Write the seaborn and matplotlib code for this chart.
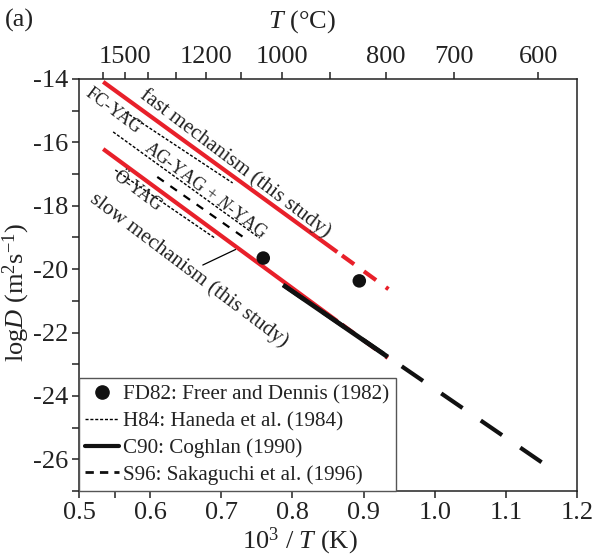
import numpy as np
import pandas as pd
import matplotlib
matplotlib.use("Agg")
import matplotlib.pyplot as plt
from matplotlib.lines import Line2D
from matplotlib.ticker import FixedLocator
import seaborn as sns

# ---------------- data ----------------
fast_x = [0.534, 0.863]
fast_y = [-14.09, -19.46]
fast_ext_x = [0.863, 0.935]
fast_ext_y = [-19.46, -20.63]

slow_x = [0.534, 0.863]
slow_y = [-16.21, -21.64]
slow_ext_x = [0.863, 0.934]
slow_ext_y = [-21.64, -22.80]

c90_x = [0.787, 0.934]
c90_y = [-20.50, -22.77]

s96_x = [0.787, 1.152]
s96_y = [-20.50, -26.12]

fd82_x = [0.759, 0.894]
fd82_y = [-19.65, -20.37]

h84_fc_x = [0.565, 0.716]
h84_fc_y = [-15.04, -17.28]
h84_agn_x = [0.548, 0.754]
h84_agn_y = [-15.67, -19.02]
h84_o_x = [0.551, 0.691]
h84_o_y = [-16.87, -19.02]

s96_agn_x = [0.610, 0.731]
s96_agn_y = [-17.09, -18.99]

leader_x = [0.674, 0.720]
leader_y = [-19.87, -19.38]

x_ticks = [0.5, 0.6, 0.7, 0.8, 0.9, 1.0, 1.1, 1.2]
x_minor = [0.55]
y_ticks = [-14, -16, -18, -20, -22, -24, -26]
y_minor = [-15, -17, -19, -21, -23, -25, -27]
t_major = [1500, 1200, 1000, 800, 700, 600]
t_minor = [1600, 1400, 1300, 1100, 900]

legend_labels = ["FD82: Freer and Dennis (1982)", "H84: Haneda et al. (1984)",
                 "C90: Coghlan (1990)", "S96: Sakaguchi et al. (1996)"]

# ---------------- style ----------------
sns.set_theme(style="ticks")
plt.rcParams["font.family"] = ["Liberation Serif", "DejaVu Serif"]
plt.rcParams["mathtext.fontset"] = "custom"
plt.rcParams["mathtext.rm"] = "Liberation Serif"
plt.rcParams["mathtext.it"] = "Liberation Serif:italic"
plt.rcParams["axes.unicode_minus"] = False

RED = "#e8202a"
INK = "#222222"
TICK_FS = 19
ANN_FS = 15.2
YAG_FS = 13

fig = plt.figure(figsize=(6.02, 5.59), dpi=100)
ax = fig.add_axes([79 / 602, 1 - 491 / 559, 498 / 602, 412 / 559])

def line(x, y, **kw):
    sns.lineplot(x=x, y=y, ax=ax, sort=False, estimator=None, legend=False, **kw)

# H84 thin dotted lines
for xs, ys in [(h84_fc_x, h84_fc_y), (h84_agn_x, h84_agn_y), (h84_o_x, h84_o_y)]:
    line(xs, ys, color="black", linewidth=1.0, linestyle=(0, (2.2, 1.3)))
# S96 medium dashed (AG-YAG + N-YAG)
line(s96_agn_x, s96_agn_y, color="black", linewidth=1.6, linestyle=(0, (3.6, 3.6)))

# red lines (this study)
line(fast_x, fast_y, color=RED, linewidth=3.0, solid_capstyle="butt")
line(fast_ext_x, fast_ext_y, color=RED, linewidth=3.0, linestyle=(5.1, (3.6, 2.9)))
line(slow_x, slow_y, color=RED, linewidth=3.0, solid_capstyle="butt")
line(slow_ext_x, slow_ext_y, color=RED, linewidth=3.0, linestyle=(5.1, (3.6, 2.9)))

# S96 thick dashed, C90 thick solid
line(s96_x, s96_y, color="#111111", linewidth=3.0, linestyle=(0, (6.2, 5.3)))
line(c90_x, c90_y, color="#111111", linewidth=3.4, solid_capstyle="butt")

# FD82 points
sns.scatterplot(x=fd82_x, y=fd82_y, ax=ax, color="#111111", s=95, edgecolor="none",
                legend=False, zorder=5)

# leader line
line(leader_x, leader_y, color="black", linewidth=0.9)

# annotations
ann = dict(rotation=-37, ha="center", va="center", rotation_mode="anchor", color=INK)
ax.text(0.7193, -16.65, "fast mechanism (this study)", fontsize=ANN_FS, **ann)
ax.text(0.655, -20.03, "slow mechanism (this study)", fontsize=ANN_FS, **ann)
ax.text(0.548, -15.01, "FC-YAG", fontsize=YAG_FS, **ann)
ax.text(0.677, -17.53, "AG-YAG + $\\mathit{N}$-YAG", fontsize=YAG_FS, **ann)
ax.text(0.5815, -17.53, "Ö-YAG", fontsize=YAG_FS, **ann)

# axes limits & ticks
ax.set_xlim(0.5, 1.2)
ax.set_ylim(-27, -14)
ax.xaxis.set_major_locator(FixedLocator(x_ticks))
ax.xaxis.set_minor_locator(FixedLocator(x_minor))
ax.yaxis.set_major_locator(FixedLocator(y_ticks))
ax.yaxis.set_minor_locator(FixedLocator(y_minor))
ax.set_xticklabels([f"{v:.1f}" for v in x_ticks])
ax.set_yticklabels([str(v) for v in y_ticks])
for axis in ("x", "y"):
    ax.tick_params(axis=axis, which="both", direction="out", length=5, width=1.1,
                   color=INK, labelsize=TICK_FS, pad=3, labelcolor=INK)
ax.tick_params(top=False, right=False)
for sp in ax.spines.values():
    sp.set_visible(True)
    sp.set_linewidth(1.1)
    sp.set_color(INK)

# top temperature axis
def x_to_t(x):
    x = np.asarray(x, dtype=float)
    with np.errstate(divide="ignore"):
        return 1000.0 / x - 273.15

def t_to_x(t):
    t = np.asarray(t, dtype=float)
    with np.errstate(divide="ignore"):
        return 1000.0 / (t + 273.15)

sec = ax.secondary_xaxis("top", functions=(x_to_t, t_to_x))
sec.xaxis.set_major_locator(FixedLocator(t_major))
sec.xaxis.set_minor_locator(FixedLocator(t_minor))
sec.set_xticklabels([str(v) for v in t_major])
sec.tick_params(which="both", direction="out", length=5, width=1.1, color=INK,
                labelsize=TICK_FS, pad=3, labelcolor=INK)
sec.spines["top"].set_visible(False)

# labels
fig.text(302 / 602, 1 - 22 / 559, "$\\mathit{T}$ (°C)", fontsize=TICK_FS, ha="center",
         va="center", color=INK)
fig.text(5 / 602, 1 - 20 / 559, "(a)", fontsize=TICK_FS, ha="left", va="center",
         color=INK)
fig.text(300 / 602, 1 - 541 / 559, "10$^3$ / $\\mathit{T}$ (K)", fontsize=TICK_FS,
         ha="center", va="center", color=INK)
fig.text(16 / 602, 1 - 292 / 559, "log$\\mathit{D}$ (m$^2$s$^{-1}$)", fontsize=TICK_FS,
         ha="center", va="center", rotation=90, color=INK)

# legend
handles = [
    Line2D([], [], marker="o", color="#111111", linestyle="none", markersize=9.5),
    Line2D([], [], color="black", linewidth=1.0, linestyle=(0, (2.2, 1.3))),
    Line2D([], [], color="#111111", linewidth=3.0),
    Line2D([], [], color="#111111", linewidth=2.0, linestyle=(0, (3.0, 2.2))),
]
leg = ax.legend(handles, legend_labels, loc="lower left", bbox_to_anchor=(0, 0),
                borderaxespad=0, fontsize=ANN_FS, frameon=True, fancybox=False,
                edgecolor="#555555", framealpha=1, handlelength=1.6,
                handletextpad=0.2, labelspacing=0.33, borderpad=0.3)
leg.get_frame().set_linewidth(1.0)
for t in leg.get_texts():
    t.set_color(INK)

fig.savefig("out.png", dpi=100)
